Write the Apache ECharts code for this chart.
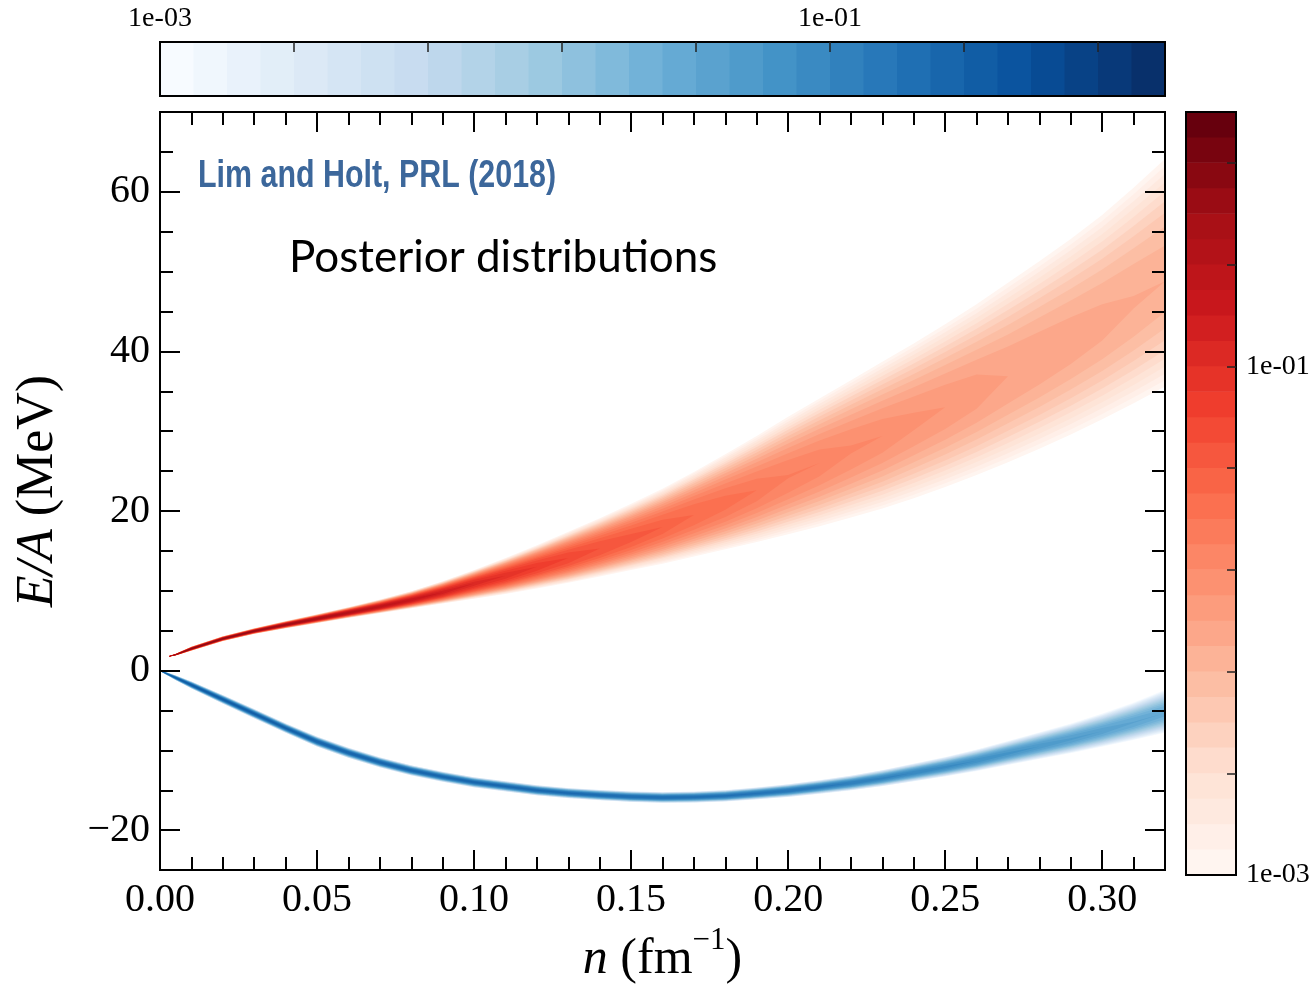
<!DOCTYPE html>
<html>
<head>
<meta charset="utf-8">
<title>Posterior distributions</title>
<script src="https://cdn.jsdelivr.net/npm/echarts@6.0.0/dist/echarts.min.js"></script>
<style>
html, body { margin: 0; padding: 0; background: #fff; }
#chart { width: 1314px; height: 990px; }
</style>
</head>
<body>
<div id="chart"></div>
<script>
// symmetric matter band (blue): density, centre, lower / upper edge, peak probability density
var nBlue = [0, 0.005, 0.01, 0.02, 0.03, 0.04, 0.05, 0.06, 0.07, 0.08, 0.09, 0.10, 0.11, 0.12, 0.13, 0.14, 0.15, 0.16,
  0.17, 0.18, 0.19, 0.20, 0.21, 0.22, 0.23, 0.24, 0.25, 0.26, 0.27, 0.28, 0.29, 0.30, 0.31, 0.32];
var blueMid = [0, -0.9, -1.8, -3.6, -5.4, -7.2, -8.9, -10.3, -11.5, -12.5, -13.3, -14.0, -14.5, -15.0, -15.35, -15.6, -15.8, -15.9,
  -15.85, -15.7, -15.4, -15.05, -14.6, -14.1, -13.5, -12.8, -12.1, -11.3, -10.4, -9.5, -8.6, -7.6, -6.5, -5.3];
var blueLow = [-0.05, -1.2, -2.25, -4.15, -6.0, -7.8, -9.54, -10.95, -12.15, -13.15, -13.95, -14.65, -15.15, -15.65, -16.0, -16.26, -16.47, -16.58,
  -16.55, -16.42, -16.15, -15.85, -15.45, -15.02, -14.5, -13.88, -13.28, -12.6, -11.83, -11.08, -10.35, -9.55, -8.7, -7.8];
var blueHigh = [0.05, -0.6, -1.35, -3.05, -4.8, -6.6, -8.26, -9.65, -10.85, -11.85, -12.65, -13.35, -13.85, -14.35, -14.7, -14.94, -15.13, -15.22,
  -15.15, -14.97, -14.63, -14.23, -13.72, -13.14, -12.45, -11.65, -10.82, -9.88, -8.82, -7.73, -6.62, -5.38, -4.0, -2.4];
var bluePeak = [0.3, 0.3, 0.3, 0.28, 0.27, 0.26, 0.25, 0.24, 0.235, 0.23, 0.225, 0.22, 0.215, 0.21, 0.205, 0.2, 0.195, 0.19,
  0.18, 0.17, 0.16, 0.15, 0.135, 0.12, 0.105, 0.095, 0.085, 0.075, 0.066, 0.058, 0.051, 0.045, 0.04, 0.035];

// neutron matter band (red)
var nRed = [0.003, 0.005, 0.01, 0.02, 0.03, 0.04, 0.05, 0.06, 0.07, 0.08, 0.09, 0.10, 0.11, 0.12, 0.13, 0.14, 0.15, 0.16,
  0.17, 0.18, 0.19, 0.20, 0.21, 0.22, 0.23, 0.24, 0.25, 0.26, 0.27, 0.28, 0.29, 0.30, 0.31, 0.32];
var redMid = [1.8, 2.0, 2.75, 4.0, 4.95, 5.75, 6.5, 7.25, 8.0, 8.85, 9.8, 10.9, 11.9, 13.0, 14.1, 15.3, 16.6, 18.0,
  19.5, 21.0, 22.6, 24.3, 26.0, 27.7, 29.4, 31.2, 33.0, 34.9, 36.9, 39.0, 41.2, 43.5, 46.1, 48.8];
var redLow = [1.75, 1.9, 2.5, 3.7, 4.6, 5.3, 5.95, 6.6, 7.2, 7.8, 8.4, 9.0, 9.6, 10.3, 11.0, 11.8, 12.6, 13.4,
  14.3, 15.2, 16.1, 17.1, 18.1, 19.2, 20.3, 21.6, 23.0, 24.5, 26.1, 27.8, 29.6, 31.5, 33.5, 35.6];
var redHigh = [1.85, 2.1, 3.0, 4.3, 5.3, 6.2, 7.05, 7.95, 8.9, 9.95, 11.2, 12.6, 14.1, 15.7, 17.4, 19.1, 20.9, 22.8,
  24.9, 27.1, 29.4, 31.8, 34.1, 36.4, 38.7, 41.0, 43.4, 45.9, 48.6, 51.3, 54.1, 57.1, 60.5, 64.1];
var redPeak = [0.6, 0.6, 0.6, 0.55, 0.5, 0.42, 0.35, 0.28, 0.22, 0.18, 0.14, 0.11, 0.09, 0.072, 0.06, 0.05, 0.042, 0.036,
  0.031, 0.027, 0.023, 0.02, 0.018, 0.016, 0.0145, 0.013, 0.012, 0.011, 0.010, 0.0095, 0.009, 0.0085, 0.008, 0.0075];

// ticks and colour levels
var xMajor = [0, 0.05, 0.10, 0.15, 0.20, 0.25, 0.30];
var yMajor = [-20, 0, 20, 40, 60];
var cbarLabels = [-3, -1];          // log10 of the density
var cbarTicks = [-2.6, -2.2, -1.8, -1.4, -1.0, -0.6, -0.2];
var levelCount = 30;                // 0.1 decade per level, 1e-3 .. 1

var bluesStops = ['#f7fbff', '#deebf7', '#c6dbef', '#9ecae1', '#6baed6', '#4292c6', '#2171b5', '#08519c', '#08306b'];
var redsStops = ['#fff5f0', '#fee0d2', '#fcbba1', '#fc9272', '#fb6a4a', '#ef3b2c', '#cb181d', '#a50f15', '#67000d'];

function hexRgb(h) {
  return [parseInt(h.substr(1, 2), 16), parseInt(h.substr(3, 2), 16), parseInt(h.substr(5, 2), 16)];
}
function cmap(stops, t) {
  var p = t * (stops.length - 1);
  var i = Math.min(Math.floor(p), stops.length - 2);
  var f = p - i;
  var a = hexRgb(stops[i]), b = hexRgb(stops[i + 1]);
  var c = a.map(function (v, k) { return Math.round(v + (b[k] - v) * f); });
  return 'rgb(' + c.join(',') + ')';
}
var levels = [];
var blueColors = [], redColors = [];
for (var j = 0; j < levelCount; j++) {
  levels.push([j]);
  blueColors.push(cmap(bluesStops, j / (levelCount - 1)));
  redColors.push(cmap(redsStops, j / (levelCount - 1)));
}

// one filled contour per level: region where density >= 10^(-3 + 0.1 j)
function band(n, mid, low, high, peak, colors) {
  return function (params, api) {
    var j = params.dataIndex;
    var L = Math.pow(10, -3 + 0.1 * j);
    var up = [], down = [];
    var any = false;
    for (var i = 0; i < n.length; i++) {
      var f = 0;
      if (peak[i] > L) {
        f = Math.sqrt(Math.log(peak[i] / L) / Math.log(peak[i] / 1e-3));
        any = true;
      }
      up.push(api.coord([n[i], mid[i] + f * (high[i] - mid[i])]));
      down.unshift(api.coord([n[i], mid[i] - f * (mid[i] - low[i])]));
    }
    if (!any) return null;
    return { type: 'polygon', silent: true, shape: { points: up.concat(down) }, style: { fill: colors[j] } };
  };
}

// colour bar segments and the horizontal bar's small ticks
function cbarH(params, api) {
  var j = params.dataIndex;
  var p0 = api.coord([-3 + 0.1 * j, 0]);
  var p1 = api.coord([-3 + 0.1 * (j + 1), 1]);
  return { type: 'rect', silent: true, shape: { x: p0[0], y: p1[1], width: p1[0] - p0[0] + 0.6, height: p0[1] - p1[1] }, style: { fill: blueColors[j] } };
}
function cbarV(params, api) {
  var j = params.dataIndex;
  var p0 = api.coord([0, -3 + 0.1 * j]);
  var p1 = api.coord([1, -3 + 0.1 * (j + 1)]);
  return { type: 'rect', silent: true, shape: { x: p0[0], y: p1[1] - 0.6, width: p1[0] - p0[0], height: p0[1] - p1[1] + 0.6 }, style: { fill: redColors[j] } };
}
function tickH(params, api) {
  var p = api.coord([api.value(0), api.value(1)]);
  return { type: 'rect', silent: true, z2: 100, shape: { x: p[0] - 0.75, y: p[1], width: 1.5, height: 10 }, style: { fill: '#222' } };
}

var serif = "'Liberation Serif', 'DejaVu Serif', serif";
var tickLine = { color: '#000', width: 2 };
function pow10Label(v) { return '1e-0' + Math.round(-v); }
function yLabel(v) { return v < 0 ? '\u2212' + (-v) : String(v); }

function xAx(pos, major, labels) {
  var a = {
    gridIndex: 0, type: 'value', position: pos, min: 0, max: 0.32, z: 10,
    axisLine: { show: false, onZero: false }, splitLine: { show: false },
    axisTick: { inside: true, length: major ? 20 : 13, lineStyle: tickLine },
    axisLabel: { show: false }
  };
  if (major) a.axisTick.customValues = xMajor; else a.interval = 0.01;
  if (labels) {
    a.axisLabel = { show: true, customValues: xMajor, formatter: function (v) { return v.toFixed(2); },
      fontFamily: serif, fontSize: 40, color: '#000', margin: 10 };
    a.name = '{i|n}{r| (fm}{s|\u22121}{r|)}';
    a.nameLocation = 'middle';
    a.nameGap = 52;
    a.nameTextStyle = {
      rich: {
        i: { fontFamily: serif, fontStyle: 'italic', fontSize: 50, color: '#000', lineHeight: 60, verticalAlign: 'bottom' },
        r: { fontFamily: serif, fontSize: 50, color: '#000', lineHeight: 60, verticalAlign: 'bottom' },
        s: { fontFamily: serif, fontSize: 31, color: '#000', lineHeight: 40, verticalAlign: 'top' }
      }
    };
  }
  return a;
}
function yAx(pos, major, labels) {
  var a = {
    gridIndex: 0, type: 'value', position: pos, min: -25, max: 70, z: 10,
    axisLine: { show: false, onZero: false }, splitLine: { show: false },
    axisTick: { inside: true, length: major ? 20 : 13, lineStyle: tickLine },
    axisLabel: { show: false }
  };
  if (major) a.axisTick.customValues = yMajor; else a.interval = 5;
  if (labels) {
    a.axisLabel = { show: true, customValues: yMajor, formatter: yLabel,
      fontFamily: serif, fontSize: 40, color: '#000', margin: 10 };
    a.name = '{i|E/A}{r| (MeV)}';
    a.nameLocation = 'middle';
    a.nameRotate = 90;
    a.nameGap = 96;
    a.nameTextStyle = {
      rich: {
        i: { fontFamily: serif, fontStyle: 'italic', fontSize: 52, color: '#000' },
        r: { fontFamily: serif, fontSize: 52, color: '#000' }
      }
    };
  }
  return a;
}

var chart = echarts.init(document.getElementById('chart'), null, { renderer: 'canvas' });
var option = {
  animation: false,
  backgroundColor: '#fff',
  grid: [
    { left: 160, top: 112, width: 1005, height: 763, show: true, z: 10, borderColor: '#000', borderWidth: 2, backgroundColor: 'transparent' },
    { left: 160, top: 42, width: 1005, height: 54, show: true, z: 10, borderColor: '#000', borderWidth: 2, backgroundColor: 'transparent' },
    { left: 1186, top: 112, width: 50, height: 763, show: true, z: 10, borderColor: '#000', borderWidth: 2, backgroundColor: 'transparent' }
  ],
  xAxis: [
    xAx('bottom', false, true),
    xAx('bottom', true, false),
    xAx('top', false, false),
    xAx('top', true, false),
    {
      gridIndex: 1, type: 'value', position: 'top', min: -3, max: 0, z: 12,
      axisLine: { show: false, onZero: false }, splitLine: { show: false },
      axisTick: { show: false },
      axisLabel: { customValues: cbarLabels, formatter: pow10Label, fontFamily: serif, fontSize: 28, color: '#000', margin: 9 }
    },
    { gridIndex: 2, type: 'value', min: 0, max: 1, show: false, axisLine: { onZero: false } }
  ],
  yAxis: [
    yAx('left', false, true),
    yAx('left', true, false),
    yAx('right', false, false),
    yAx('right', true, false),
    { gridIndex: 1, type: 'value', min: 0, max: 1, show: false, axisLine: { onZero: false } },
    {
      gridIndex: 2, type: 'value', position: 'right', min: -3, max: 0, z: 12,
      axisLine: { show: false, onZero: false }, splitLine: { show: false },
      axisTick: { show: true, inside: true, length: 9, customValues: cbarTicks, lineStyle: { color: '#222', width: 1.5 } },
      axisLabel: { customValues: cbarLabels, formatter: pow10Label, fontFamily: serif, fontSize: 28, color: '#000', margin: 10 }
    }
  ],
  series: [
    { type: 'custom', name: 'neutron matter', xAxisIndex: 0, yAxisIndex: 0, clip: true, data: levels,
      renderItem: band(nRed, redMid, redLow, redHigh, redPeak, redColors) },
    { type: 'custom', name: 'nuclear matter', xAxisIndex: 0, yAxisIndex: 0, clip: true, data: levels,
      renderItem: band(nBlue, blueMid, blueLow, blueHigh, bluePeak, blueColors) },
    { type: 'custom', xAxisIndex: 4, yAxisIndex: 4, z: 2, data: levels, renderItem: cbarH },
    { type: 'custom', xAxisIndex: 4, yAxisIndex: 4, z: 20, data: cbarTicks.map(function (v) { return [v, 1]; }), renderItem: tickH },
    { type: 'custom', xAxisIndex: 5, yAxisIndex: 5, data: levels, renderItem: cbarV }
  ],
  graphic: [
    { type: 'text', left: 198, top: 158, z: 20, scaleX: 0.8,
      style: { text: 'Lim and Holt, PRL (2018)', fill: '#3c679b', fontSize: 38, fontWeight: 'bold',
        fontFamily: "'Liberation Sans', Arial, sans-serif" } },
    { type: 'text', left: 289, top: 236, z: 20,
      style: { text: 'Posterior distributions', fill: '#000', fontSize: 44, fontFamily: "Lato, 'Open Sans', sans-serif" } }
  ]
};
chart.setOption(option);
</script>
</body>
</html>
